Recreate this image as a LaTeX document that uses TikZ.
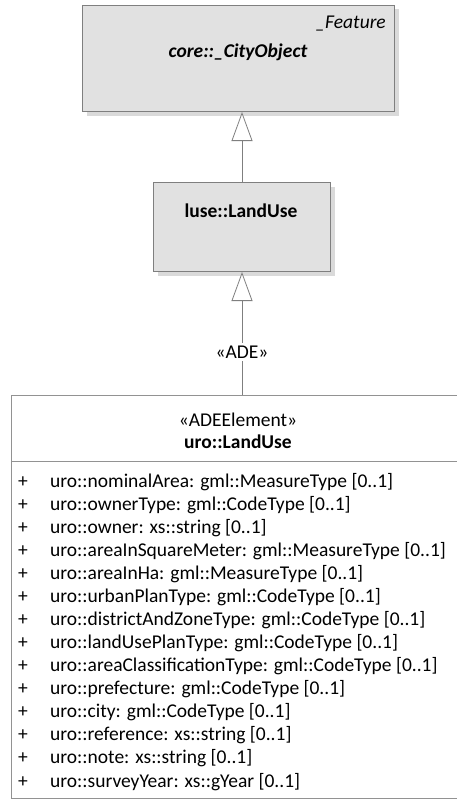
\documentclass[tikz,border=0pt]{standalone}
\usepackage{fontspec}
\setmainfont{Carlito}
\usetikzlibrary{arrows.meta,shadows}

\definecolor{boxgray}{HTML}{E1E1E1}
\definecolor{linegray}{HTML}{7F7F7F}
\definecolor{shadowgray}{HTML}{DADADA}

\newcommand\umlfont{\fontsize{19.5}{23}\selectfont}

\tikzset{
  classbox/.style={draw=linegray, fill=boxgray, line width=1pt, anchor=north west,
    inner sep=0pt, drop shadow={shadow xshift=4pt, shadow yshift=-4pt, fill=shadowgray, opacity=1}},
  elembox/.style={draw=linegray!85, fill=white, line width=1pt, anchor=north west, inner sep=0pt},
  genline/.style={draw=linegray, line width=0.8pt,
    -{Triangle[open, length=29pt, width=21pt, fill=white]}},
  txt/.style={inner sep=0pt, font=\umlfont},
}

\begin{document}
\begin{tikzpicture}[x=1pt, y=-1pt]
  \useasboundingbox (0,0) rectangle (456,800);

  % core::_CityObject
  \node[classbox, minimum width=312pt, minimum height=106pt] (cityobj) at (82,5) {};
  \node[txt, anchor=base east, font=\umlfont\itshape] (featurelbl) at (386,29) {\_Feature};
  \node[txt, anchor=base, font=\umlfont\bfseries\itshape] (cityobjlbl) at (238,58) {core::\_CityObject};

  % luse::LandUse
  \node[classbox, minimum width=177pt, minimum height=89pt] (landuse) at (153,182) {};
  \node[txt, anchor=base, font=\umlfont\bfseries] (landuselbl) at (241,217) {luse::LandUse};

  % uro::LandUse (ADE element)
  \node[elembox, minimum width=454pt, minimum height=403pt] (uroland) at (11,395) {};
  \node[txt, anchor=base] (stereolbl) at (238,426) {«ADEElement»};
  \node[txt, anchor=base, font=\umlfont\bfseries] (urolandlbl) at (238,448) {uro::LandUse};
  \draw[draw=linegray!85, line width=1pt] (11,461) -- (465,461);

  % attributes
  \foreach \attr [count=\i from 0] in {
      uro::nominalArea: gml::MeasureType [0..1],
      uro::ownerType: gml::CodeType [0..1],
      uro::owner: xs::string [0..1],
      uro::areaInSquareMeter: gml::MeasureType [0..1],
      uro::areaInHa: gml::MeasureType [0..1],
      uro::urbanPlanType: gml::CodeType [0..1],
      uro::districtAndZoneType: gml::CodeType [0..1],
      uro::landUsePlanType: gml::CodeType [0..1],
      uro::areaClassificationType: gml::CodeType [0..1],
      uro::prefecture: gml::CodeType [0..1],
      uro::city: gml::CodeType [0..1],
      uro::reference: xs::string [0..1],
      uro::note: xs::string [0..1],
      uro::surveyYear: xs::gYear [0..1]} {
    \node[txt, anchor=base] (plus\i) at (23,487+23.08*\i) {+};
    \node[txt, anchor=base west] (attr\i) at (50,487+23.08*\i) {\attr};
  }

  % generalizations
  \draw[genline] (landuse.north) -- (landuse.north |- cityobj.south);
  \draw[genline] (landuse.south |- uroland.north)
    -- node[txt, pos=0.35, fill=white, inner sep=3pt] (adelbl) {«ADE»} (landuse.south);

\end{tikzpicture}
\end{document}
